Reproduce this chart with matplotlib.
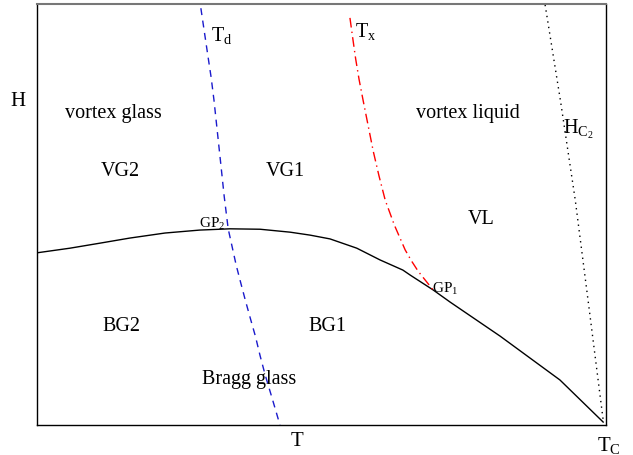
import matplotlib
matplotlib.use('Agg')
import matplotlib.pyplot as plt

plt.rcParams['font.family'] = ['Liberation Serif', 'DejaVu Serif']
plt.rcParams['mathtext.fontset'] = 'custom'
plt.rcParams['mathtext.rm'] = 'Liberation Serif'
plt.rcParams['mathtext.it'] = 'Liberation Serif'

# Граница Bragg glass / vortex glass (сплошная)
bg_T = [0.0, 0.058, 0.111, 0.163, 0.225, 0.286, 0.339, 0.392, 0.445, 0.480,
        0.515, 0.562, 0.603, 0.643, 0.656, 0.696, 0.726, 0.814, 0.919, 0.995]
bg_H = [0.409, 0.420, 0.432, 0.444, 0.456, 0.463, 0.466, 0.465, 0.458, 0.451,
        0.442, 0.420, 0.392, 0.368, 0.356, 0.321, 0.292, 0.211, 0.107, 0.007]

# Линия T_d (синяя пунктирная)
td_T = [0.288, 0.294, 0.300, 0.306, 0.311, 0.317, 0.323, 0.329, 0.336, 0.343,
        0.350, 0.358, 0.366, 0.375, 0.384, 0.392, 0.401, 0.414, 0.427]
td_H = [0.990, 0.935, 0.880, 0.826, 0.772, 0.696, 0.620, 0.543, 0.466, 0.423,
        0.380, 0.338, 0.297, 0.253, 0.210, 0.165, 0.119, 0.060, 0.0]

# Линия T_x (красная штрихпунктирная)
tx_T = [0.550, 0.555, 0.560, 0.566, 0.573, 0.582, 0.591, 0.601, 0.612, 0.628,
        0.647, 0.658, 0.670, 0.683, 0.696]
tx_H = [0.967, 0.918, 0.870, 0.821, 0.772, 0.711, 0.650, 0.592, 0.534, 0.475,
        0.416, 0.390, 0.365, 0.343, 0.321]

# Линия H_c2 (точечная)
hc_T = [0.893, 0.920, 0.946, 0.970, 0.995]
hc_H = [0.998, 0.770, 0.534, 0.280, 0.012]

fig = plt.figure(figsize=(6.33, 4.55), dpi=100)
ax = fig.add_axes([37/633, 30/455, 569/633, 421/455])

ax.plot(bg_T, bg_H, color='black', lw=1.0)
ax.plot(td_T, td_H, color='#1a1acc', lw=1.0, linestyle=(0, (5, 4)))
ax.plot(tx_T, tx_H, color='red', lw=1.0, linestyle=(0, (7, 3, 1, 3)))
ax.plot(hc_T, hc_H, color='black', lw=1.0, linestyle=(0, (1, 3)))

ax.set_xlim(0, 1)
ax.set_ylim(0, 1)
ax.set_xticks([])
ax.set_yticks([])
for s in ['left', 'bottom', 'right']:
    ax.spines[s].set_linewidth(1.0)
ax.spines['top'].set_color('#777777')
ax.spines['top'].set_linewidth(1.5)

fs = 14.5
labels = [
    ('vortex glass', 0.134, 0.739),
    ('VG2', 0.146, 0.603),
    ('VG1', 0.436, 0.603),
    ('vortex liquid', 0.757, 0.739),
    ('VL', 0.780, 0.488),
    ('BG2', 0.149, 0.235),
    ('BG1', 0.510, 0.235),
    ('Bragg glass', 0.373, 0.109),
]
for txt, x, y in labels:
    ax.text(x, y, txt, ha='center', va='center', fontsize=fs)

ax.text(0.305, 0.925, r'T$_\mathrm{d}$', ha='left', va='center', fontsize=fs)
ax.text(0.558, 0.935, r'T$_\mathrm{x}$', ha='left', va='center', fontsize=fs)
ax.text(0.924, 0.703, r'H$_{\mathrm{C}_2}$', ha='left', va='center', fontsize=fs)
ax.text(0.284, 0.478, r'GP$_2$', ha='left', va='center', fontsize=11)
ax.text(0.694, 0.324, r'GP$_1$', ha='left', va='center', fontsize=11)

fig.text(18/633, 1 - 102/455, 'H', ha='center', va='center', fontsize=15)
fig.text(297/633, 1 - 442/455, 'T', ha='center', va='center', fontsize=15)
fig.text(609/633, 1 - 445/455, r'T$_\mathrm{C}$', ha='center', va='center', fontsize=15)

fig.savefig('out.png', dpi=100)
